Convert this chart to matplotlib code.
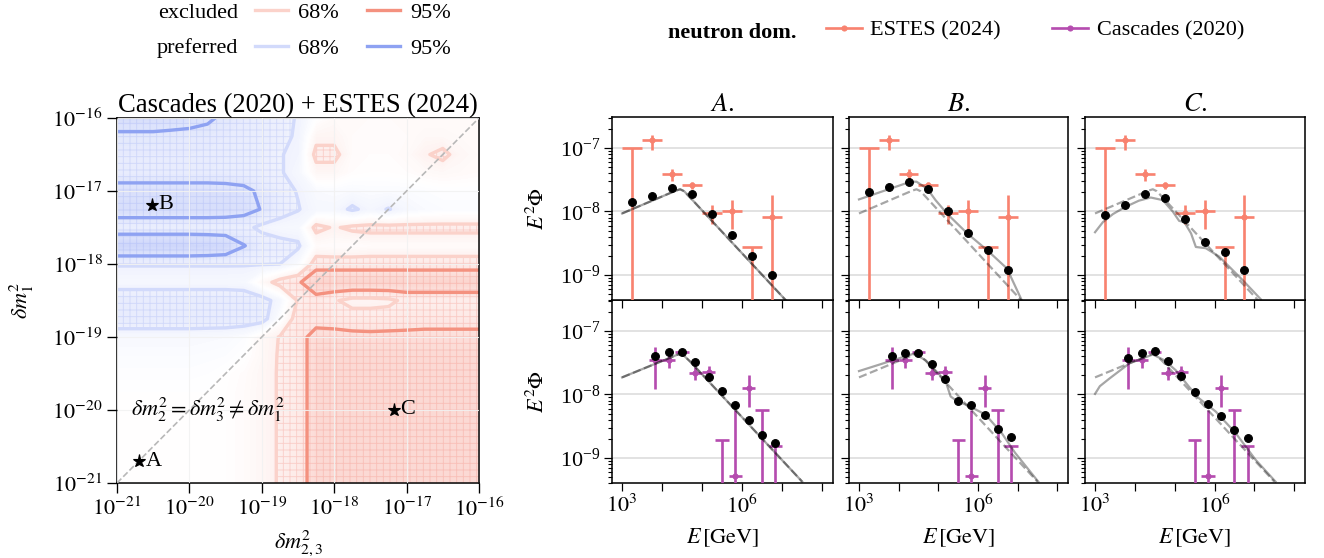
import matplotlib
matplotlib.use("Agg")
import matplotlib.pyplot as plt
import numpy as np
from matplotlib.colors import LinearSegmentedColormap
from matplotlib.lines import Line2D
from matplotlib.ticker import (FixedLocator, FuncFormatter, LogLocator,
                               NullFormatter, NullLocator)

plt.rcParams['font.family'] = ['Liberation Serif', 'DejaVu Serif']
plt.rcParams['mathtext.fontset'] = 'stix'
plt.rcParams['font.size'] = 20
plt.rcParams['hatch.linewidth'] = 0.8
plt.rcParams['axes.linewidth'] = 1.4

W, H, DPI = 1324, 558, 80

# ---------------- left panel: signed significance on a log grid ----------------
log_dm23 = np.linspace(-21, -16, 21)      # columns, x axis
log_dm1 = np.linspace(-16, -21, 21)       # rows, top to bottom
# >0: preferred (blue), <0: excluded (red); |z|=1 -> 68%, |z|=2 -> 95%
sig_rows = [
    [2.6, 2.6, 2.6, 2.5, 2.4, 2.15, 1.8, 1.6, 1.4, 1.2, 0.95, 0.0, -0.4, -0.3, -0.3, -0.3, -0.3, -0.3, -0.3, -0.3, -0.3],
    [1.8, 1.8, 1.8, 1.75, 1.7, 1.7, 1.6, 1.5, 1.4, 1.2, 0.9, -0.7, -0.7, -0.3, -0.2, -0.2, -0.3, -0.5, -0.5, -0.4, -0.3],
    [1.6, 1.6, 1.6, 1.6, 1.6, 1.55, 1.5, 1.4, 1.3, 1.05, 0.8, -1.3, -1.3, -0.3, -0.2, -0.2, -0.4, -0.9, -1.25, -0.6, -0.4],
    [1.5, 1.5, 1.5, 1.5, 1.5, 1.5, 1.5, 1.4, 1.3, 1.1, 0.6, -0.6, -0.6, -0.2, -0.1, -0.1, -0.2, -0.4, -0.5, -0.4, -0.3],
    [2.4, 2.4, 2.4, 2.4, 2.4, 2.4, 2.35, 2.25, 1.8, 1.3, 0.95, 0.4, 0.3, 0.4, 0.3, 0.3, 0.3, 0.2, 0.1, 0.1, 0.1],
    [2.6, 2.6, 2.6, 2.6, 2.6, 2.6, 2.55, 2.4, 1.95, 1.4, 1.05, 0.6, 0.6, 1.15, 0.7, 1.05, 0.6, 0.4, 0.3, 0.3, 0.3],
    [1.3, 1.3, 1.3, 1.3, 1.3, 1.3, 1.3, 1.25, 0.8, 0.6, 0.5, -1.3, -0.9, -1.2, -1.3, -1.3, -1.3, -1.3, -1.3, -1.3, -1.3],
    [3.2, 3.2, 3.2, 3.2, 3.2, 3.1, 2.9, 2.05, 1.5, 1.3, 1.15, -0.3, -0.2, -0.2, -0.3, -0.3, -0.3, -0.3, -0.3, -0.3, -0.3],
    [1.05, 1.05, 1.05, 1.05, 1.05, 1.05, 1.05, 1.05, 1.05, 1.0, 0.3, -1.5, -1.5, -1.5, -1.5, -1.5, -1.5, -1.5, -1.5, -1.5, -1.5],
    [0.6, 0.6, 0.6, 0.6, 0.6, 0.6, 0.6, 0.55, -0.5, -1.4, -1.8, -3.0, -3.0, -3.0, -3.0, -3.0, -3.0, -3.0, -3.0, -3.0, -3.0],
    [1.6, 1.6, 1.6, 1.6, 1.6, 1.6, 1.6, 1.55, 1.4, 0.6, -1.1, -1.5, -1.1, -0.7, -0.7, -0.8, -1.2, -1.2, -1.2, -1.2, -1.2],
    [1.6, 1.6, 1.6, 1.6, 1.6, 1.6, 1.6, 1.55, 1.4, 0.1, -1.5, -1.6, -1.5, -1.4, -1.4, -1.4, -1.5, -1.6, -1.6, -1.6, -1.6],
    [0.5, 0.5, 0.5, 0.5, 0.5, 0.45, 0.4, 0.2, -0.5, -1.05, -1.6, -2.4, -2.4, -2.3, -2.25, -2.3, -2.3, -2.3, -2.3, -2.3, -2.3],
    [0.3, 0.3, 0.3, 0.3, 0.3, 0.25, 0.2, 0.0, -0.5, -1.1, -1.4, -2.6, -2.6, -2.6, -2.6, -2.6, -2.6, -2.6, -2.6, -2.6, -2.6],
    [0.15, 0.15, 0.15, 0.15, 0.15, 0.1, -0.05, -0.25, -0.6, -1.1, -1.4, -2.6, -2.6, -2.6, -2.6, -2.6, -2.6, -2.6, -2.6, -2.6, -2.6],
    [0.0, 0.0, 0.0, 0.0, 0.0, 0.0, -0.1, -0.3, -0.6, -1.1, -1.4, -2.6, -2.6, -2.6, -2.6, -2.6, -2.6, -2.6, -2.6, -2.6, -2.6],
    [0.0, 0.0, 0.0, 0.0, 0.0, 0.0, -0.1, -0.3, -0.6, -1.1, -1.4, -2.6, -2.6, -2.6, -2.6, -2.6, -2.6, -2.6, -2.6, -2.6, -2.6],
    [0.0, 0.0, 0.0, 0.0, 0.0, 0.0, -0.1, -0.3, -0.6, -1.1, -1.4, -2.6, -2.6, -2.6, -2.6, -2.6, -2.6, -2.6, -2.6, -2.6, -2.6],
    [0.0, 0.0, 0.0, 0.0, 0.0, 0.0, -0.1, -0.3, -0.6, -1.1, -1.4, -2.6, -2.6, -2.6, -2.6, -2.6, -2.6, -2.6, -2.6, -2.6, -2.6],
    [0.0, 0.0, 0.0, 0.0, 0.0, 0.0, -0.1, -0.3, -0.6, -1.1, -1.4, -2.6, -2.6, -2.6, -2.6, -2.6, -2.6, -2.6, -2.6, -2.6, -2.6],
    [0.0, 0.0, 0.0, 0.0, 0.0, 0.0, -0.1, -0.3, -0.6, -1.1, -1.4, -2.6, -2.6, -2.6, -2.6, -2.6, -2.6, -2.6, -2.6, -2.6, -2.6],
]
bench_names = ['A', 'B', 'C']
bench_dm23 = [2.0e-21, 3.0e-21, 6.7e-18]
bench_dm1 = [2.0e-21, 6.5e-18, 1.0e-20]

# ---------------- right panels: fluxes ----------------
estes_e = [1.78e3, 5.62e3, 1.78e4, 5.62e4, 1.78e5, 5.62e5, 1.78e6, 5.62e6]
estes_lo = [1.0e3, 3.16e3, 1.0e4, 3.16e4, 1.0e5, 3.16e5, 1.0e6, 3.16e6]
estes_hi = [3.16e3, 1.0e4, 3.16e4, 1.0e5, 3.16e5, 1.0e6, 3.16e6, 1.0e7]
estes_val = [1.0e-7, 1.32e-7, 3.9e-8, 2.57e-8, 9.5e-9, 1.0e-8, 2.75e-9, 8.2e-9]
estes_up = [1.0e-7, 1.62e-7, 4.6e-8, 2.95e-8, 1.26e-8, 1.5e-8, 2.75e-9, 1.82e-8]
estes_down = [1e-12, 9.5e-8, 3.0e-8, 2.3e-8, 6.3e-9, 5.3e-9, 1e-12, 1e-12]
estes_ul = [True, False, False, False, False, False, True, False]

casc_e = [6.8e3, 1.47e4, 3.16e4, 6.8e4, 1.47e5, 3.16e5, 6.8e5, 1.47e6, 3.16e6, 6.8e6]
casc_lo = [4.64e3, 1.0e4, 2.15e4, 4.64e4, 1.0e5, 2.15e5, 4.64e5, 1.0e6, 2.15e6, 4.64e6]
casc_hi = [1.0e4, 2.15e4, 4.64e4, 1.0e5, 2.15e5, 4.64e5, 1.0e6, 2.15e6, 4.64e6, 1.0e7]
casc_val = [3.55e-8, 3.47e-8, 4.7e-8, 2.2e-8, 2.3e-8, 1.9e-9, 5.2e-10, 1.28e-8, 5.6e-9, 1.55e-9]
casc_up = [5.6e-8, 4.4e-8, 5.1e-8, 2.7e-8, 2.8e-8, 1.9e-9, 5.7e-9, 2.03e-8, 5.6e-9, 1.55e-9]
casc_down = [1.2e-8, 2.66e-8, 4.15e-8, 1.7e-8, 1.8e-8, 1e-12, 1e-12, 6.3e-9, 1e-12, 1e-12]
casc_ul = [False, False, False, False, False, True, False, False, True, True]

# expected binned flux for each benchmark (black dots)
dots_estes = {
    'A': [1.39e-8, 1.74e-8, 2.34e-8, 1.92e-8, 9.1e-9, 4.2e-9, 2.0e-9, 1.0e-9],
    'B': [2.0e-8, 2.4e-8, 2.95e-8, 2.29e-8, 1.01e-8, 4.5e-9, 2.45e-9, 1.2e-9],
    'C': [8.7e-9, 1.26e-8, 1.9e-8, 1.66e-8, 7.6e-9, 3.3e-9, 2.26e-9, 1.17e-9],
}
dots_casc = {
    'A': [4.0e-8, 4.6e-8, 4.75e-8, 3.2e-8, 1.9e-8, 1.13e-8, 6.7e-9, 3.9e-9, 2.3e-9, 1.7e-9],
    'B': [4.07e-8, 4.57e-8, 4.52e-8, 3.02e-8, 1.78e-8, 7.8e-9, 6.8e-9, 4.7e-9, 2.85e-9, 2.1e-9],
    'C': [3.7e-8, 4.57e-8, 4.9e-8, 3.4e-8, 1.95e-8, 1.11e-8, 7.1e-9, 4.5e-9, 2.7e-9, 2.04e-9],
}

# no-decay reference spectra (dashed)
std_estes_e = [1.0e3, 1.58e4, 2.24e4, 2.82e4, 3.55e4, 5.01e4, 1.26e7]
std_estes_f = [9.3e-9, 1.95e-8, 2.14e-8, 2.24e-8, 2.09e-8, 1.66e-8, 3.9e-10]
std_casc_e = [1.0e3, 1.58e4, 2.24e4, 2.82e4, 3.55e4, 5.01e4, 3.16e7]
std_casc_f = [1.86e-8, 3.8e-8, 4.17e-8, 4.37e-8, 4.07e-8, 3.31e-8, 4.2e-10]

# benchmark spectra (solid)
curve_estes = {
    'A': (std_estes_e, std_estes_f),
    'B': ([1.0e3, 2.0e4, 2.82e4, 5.25e4, 8.51e4, 1.70e5, 5.37e5, 1.70e6, 5.37e6, 1.26e7],
          [1.55e-8, 2.95e-8, 2.95e-8, 2.29e-8, 1.51e-8, 9.1e-9, 4.5e-9, 2.45e-9, 1.26e-9, 4.0e-10]),
    'C': ([1.0e3, 1.58e3, 2.82e3, 5.62e3, 1.26e4, 2.51e4, 5.01e4, 8.91e4, 1.29e5, 1.74e5,
           2.57e5, 3.39e5, 6.03e5, 1.29e6, 5.01e6, 1.45e7],
          [4.7e-9, 6.8e-9, 9.1e-9, 1.17e-8, 1.48e-8, 1.66e-8, 1.51e-8, 1.0e-8, 7.1e-9, 6.8e-9,
           4.5e-9, 2.75e-9, 2.63e-9, 1.95e-9, 8.3e-10, 4.1e-10]),
}
curve_casc = {
    'A': (std_casc_e, std_casc_f),
    'B': ([1.0e3, 2.45e4, 4.79e4, 1.05e5, 1.55e5, 2.04e5, 3.02e5, 5.89e5, 1.55e6, 3.98e6, 8.61e6, 3.31e7],
          [2.34e-8, 4.42e-8, 3.47e-8, 2.09e-8, 1.58e-8, 9.3e-9, 7.8e-9, 6.6e-9, 4.8e-9, 2.45e-9, 1.2e-9, 4.2e-10]),
    'C': ([1.0e3, 1.32e3, 2.29e3, 7.24e3, 2.82e4, 5.5e4, 1.07e5, 2.29e5, 4.07e5, 1.07e6, 3.39e6, 1.07e7, 3.39e7],
          [1.02e-8, 1.35e-8, 1.78e-8, 3.09e-8, 4.27e-8, 3.47e-8, 2.4e-8, 1.32e-8, 8.7e-9, 5.37e-9, 2.45e-9, 9.3e-10, 4.2e-10]),
}

ESTES_C = '#f8826f'
CASC_C = '#b54caf'
RED95, RED68 = '#f4917f', '#fbd2ca'
BLUE95, BLUE68 = '#8ea2f2', '#d2dafb'


def box(x0, y0, x1, y1):
    # pixel box -> figure fraction rect
    return [x0 / W, 1 - y1 / H, (x1 - x0) / W, (y1 - y0) / H]


def pow10(v, pos):
    return f'$10^{{{int(round(v))}}}$'


fig = plt.figure(figsize=(W / DPI, H / DPI), dpi=DPI)

# ---------------- left panel ----------------
ax = fig.add_axes(box(117, 118, 479, 483))
X, Y = np.meshgrid(log_dm23, log_dm1[::-1])
Z = np.array(sig_rows)[::-1]
cmap = LinearSegmentedColormap.from_list('rb', ['#facdc6', '#ffffff', '#cad3fa'])
ax.contourf(X, Y, Z, levels=np.linspace(-3.5, 3.5, 71), cmap=cmap, extend='both', zorder=0)
hb = ax.contourf(X, Y, Z, levels=[1, 10], colors='none', hatches=['++'], zorder=1)
hb.set_edgecolor((0.55, 0.62, 0.95, 0.25))
hb.set_linewidth(0)
hr = ax.contourf(X, Y, Z, levels=[-10, -1], colors='none', hatches=['++'], zorder=1)
hr.set_edgecolor((0.95, 0.45, 0.40, 0.25))
hr.set_linewidth(0)
ax.contour(X, Y, Z, levels=[-2, -1], colors=[RED95, RED68], linewidths=3, zorder=2)
ax.contour(X, Y, Z, levels=[1, 2], colors=[BLUE68, BLUE95], linewidths=3, zorder=2)
ax.axline((-21, -21), slope=1, color='#b8b8b8', ls='--', lw=1.5, zorder=3)
ax.set_xlim(-21, -16)
ax.set_ylim(-21, -16)
ax.grid(True, color='#f2f2f2', lw=1.0, alpha=0.9)
ax.set_axisbelow(False)
for name, xv, yv in zip(bench_names, bench_dm23, bench_dm1):
    ax.plot(np.log10(xv), np.log10(yv), '*', color='k', ms=12, zorder=5)
    ax.text(np.log10(xv) + 0.09, np.log10(yv), name, ha='left', va='center', zorder=5)
ax.text(-20.8, -20.0, r'$\delta m_2^2 = \delta m_3^2 \neq \delta m_1^2$', ha='left', va='center', zorder=5)
ax.xaxis.set_major_locator(FixedLocator(list(range(-21, -15))))
ax.yaxis.set_major_locator(FixedLocator(list(range(-21, -15))))
ax.xaxis.set_major_formatter(FuncFormatter(pow10))
ax.yaxis.set_major_formatter(FuncFormatter(pow10))
ax.tick_params(direction='out', length=9, width=1.2, pad=4)
ax.set_title('Cascades (2020) + ESTES (2024)', pad=4)
ax.set_xlabel(r'$\delta m_{2,3}^2$')
ax.set_ylabel(r'$\delta m_1^2$')
ax.xaxis.set_label_coords(0.5, -0.125)
ax.yaxis.set_label_coords(-0.225, 0.5)

# ---------------- right panels ----------------
cols = [(612, 833), (849, 1068), (1085, 1305)]
rows = [(117, 300), (300, 483)]


def xfmt(v, pos):
    k = int(round(np.log10(v)))
    return f'$10^{{{k}}}$' if k in (3, 6) else ''


def draw_data(a, e, lo, hi, val, up, down, ul, color):
    e, lo, hi = np.array(e), np.array(lo), np.array(hi)
    val, up, down = np.array(val), np.array(up), np.array(down)
    ul = np.array(ul)
    pts = ~ul
    a.errorbar(e[pts], val[pts], xerr=[e[pts] - lo[pts], hi[pts] - e[pts]],
               yerr=[val[pts] - down[pts], up[pts] - val[pts]],
               fmt='o', ms=4.5, color=color, elinewidth=2.4, capsize=0, zorder=3)
    a.errorbar(e[ul], val[ul], xerr=[e[ul] - lo[ul], hi[ul] - e[ul]],
               yerr=[val[ul] - down[ul], np.zeros(ul.sum())],
               fmt='none', color=color, elinewidth=2.4, capsize=0, zorder=3)


for ci, name in enumerate(bench_names):
    x0, x1 = cols[ci]
    for ri, (y0, y1) in enumerate(rows):
        a = fig.add_axes(box(x0, y0, x1, y1), zorder=2 if ri == 0 else 1)
        a.set_xscale('log')
        a.set_yscale('log')
        if ri == 0:
            draw_data(a, estes_e, estes_lo, estes_hi, estes_val, estes_up, estes_down, estes_ul, ESTES_C)
            a.plot(estes_e, dots_estes[name], 'o', color='k', ms=7, zorder=5)
            a.plot(std_estes_e, std_estes_f, '--', color='k', alpha=0.35, lw=2, zorder=4)
            ce, cf = curve_estes[name]
        else:
            draw_data(a, casc_e, casc_lo, casc_hi, casc_val, casc_up, casc_down, casc_ul, CASC_C)
            a.plot(casc_e, dots_casc[name], 'o', color='k', ms=7, zorder=5)
            a.plot(std_casc_e, std_casc_f, '--', color='k', alpha=0.35, lw=2, zorder=4)
            ce, cf = curve_casc[name]
        a.plot(ce, cf, '-', color='k', alpha=0.35, lw=2, zorder=4)
        a.set_xlim(5.6e2, 1.86e8)
        a.set_ylim(4.0e-10, 3.1e-7)
        a.yaxis.grid(True, which='major', color='#dddddd', lw=1.5)
        a.set_axisbelow(True)
        a.xaxis.set_major_locator(LogLocator(base=10, numticks=20))
        a.xaxis.set_minor_locator(NullLocator())
        a.xaxis.set_major_formatter(FuncFormatter(xfmt))
        a.yaxis.set_major_locator(LogLocator(base=10, numticks=20))
        a.yaxis.set_minor_locator(LogLocator(base=10, subs=np.arange(2, 10), numticks=20))
        a.yaxis.set_minor_formatter(NullFormatter())
        a.tick_params(which='major', direction='out', length=7, width=1.1)
        a.tick_params(which='minor', direction='out', length=4, width=1.0)
        if ci > 0:
            a.tick_params(labelleft=False)
        else:
            a.set_ylabel(r'$E^2\Phi$')
            a.yaxis.set_label_coords(-0.285, 0.5)
        if ri == 0:
            a.tick_params(labelbottom=False)
            a.set_title(f'${name}.$', pad=4)
        else:
            a.set_xlabel(r'$E\,[\mathrm{GeV}]$')
            a.xaxis.set_label_coords(0.5, -0.235)

# ---------------- legends ----------------
fig.text(238 / W, 1 - 14 / H, 'excluded', ha='right', va='center')
fig.text(238 / W, 1 - 48 / H, 'preferred', ha='right', va='center')
h_contour = [Line2D([], [], color=RED68, lw=3), Line2D([], [], color=BLUE68, lw=3),
             Line2D([], [], color=RED95, lw=3), Line2D([], [], color=BLUE95, lw=3)]
fig.legend(h_contour, ['68%', '68%', '95%', '95%'], ncol=2, frameon=False,
           loc='upper left', bbox_to_anchor=(255 / W, 1 - 2 / H), borderpad=0, borderaxespad=0,
           handlelength=1.5, handletextpad=0.45, columnspacing=1.25, labelspacing=0.7)

fig.text(668 / W, 1 - 33 / H, 'neutron dom.', ha='left', va='center', weight='bold')
h_data = [Line2D([], [], color=ESTES_C, lw=2.4, marker='o', ms=4.5),
          Line2D([], [], color=CASC_C, lw=2.4, marker='o', ms=4.5)]
fig.legend(h_data, ['ESTES (2024)', 'Cascades (2020)'], ncol=2, frameon=False,
           loc='upper left', bbox_to_anchor=(826 / W, 1 - 20 / H), borderpad=0, borderaxespad=0,
           handlelength=1.6, handletextpad=0.4, columnspacing=2.3)

fig.savefig('out.png', dpi=DPI, facecolor='white')
